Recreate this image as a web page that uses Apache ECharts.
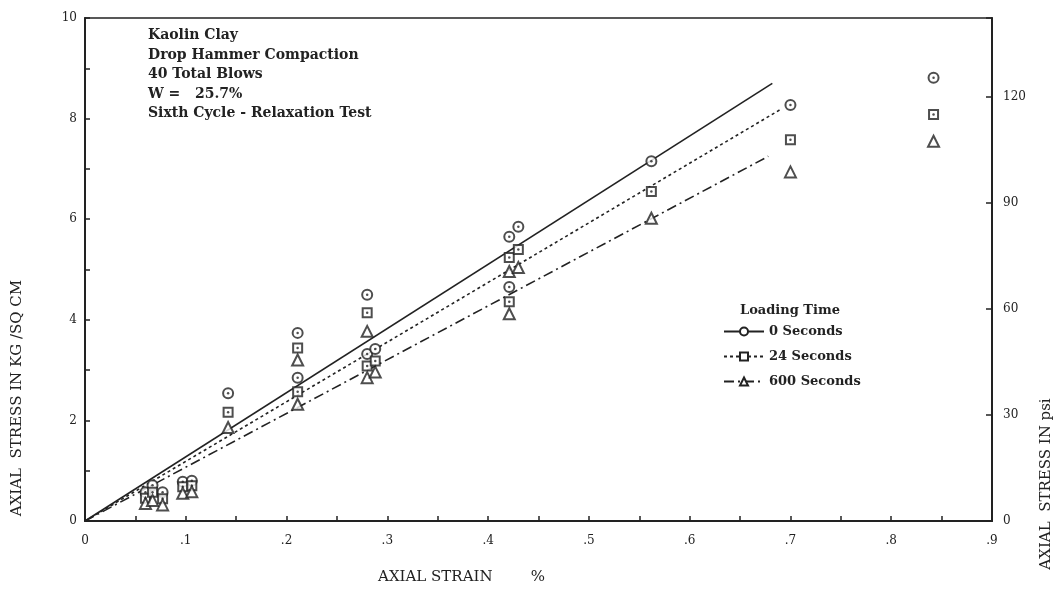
<!DOCTYPE html>
<html>
<head>
<meta charset="utf-8">
<script src="https://cdn.jsdelivr.net/npm/echarts@6/dist/echarts.min.js"></script>
<style>
  html, body { margin: 0; padding: 0; background: #fff; }
  #chart { width: 1059px; height: 590px; }
</style>
</head>
<body>
<div id="chart"></div>
<script>
// Axial strain (%) vs axial stress (kg/sq cm), sixth loading cycle of a relaxation test
const strainTicks = [0, 0.1, 0.2, 0.3, 0.4, 0.5, 0.6, 0.7, 0.8, 0.9];
const KG_TO_PSI = 14.223;

// measured points, one list per loading time: [strain %, stress kg/sq cm]
const stress0s = [
  [0.060, 0.57], [0.067, 0.71], [0.077, 0.57], [0.097, 0.78], [0.106, 0.80],
  [0.142, 2.54],
  [0.211, 3.74], [0.211, 2.85],
  [0.280, 4.50], [0.280, 3.32], [0.288, 3.42],
  [0.421, 5.65], [0.430, 5.85], [0.421, 4.65],
  [0.562, 7.15],
  [0.700, 8.27],
  [0.842, 8.81]
];
const stress24s = [
  [0.060, 0.45], [0.067, 0.57], [0.077, 0.44], [0.097, 0.68], [0.106, 0.70],
  [0.142, 2.16],
  [0.211, 3.44], [0.211, 2.57],
  [0.280, 4.14], [0.280, 3.08], [0.288, 3.18],
  [0.421, 5.24], [0.430, 5.40], [0.421, 4.36],
  [0.562, 6.55],
  [0.700, 7.58],
  [0.842, 8.08]
];
const stress600s = [
  [0.060, 0.35], [0.067, 0.41], [0.077, 0.32], [0.097, 0.55], [0.106, 0.58],
  [0.142, 1.86],
  [0.211, 3.20], [0.211, 2.32],
  [0.280, 3.77], [0.280, 2.85], [0.288, 2.96],
  [0.421, 4.96], [0.430, 5.04], [0.421, 4.12],
  [0.562, 6.02],
  [0.700, 6.94],
  [0.842, 7.55]
];

// straight lines drawn through each set
const fit0s = [[0, 0], [0.682, 8.70]];
const fit24s = [[0, 0], [0.690, 8.18]];
const fit600s = [[0, 0], [0.678, 7.25]];

const notes = [
  'Kaolin Clay',
  'Drop Hammer Compaction',
  '40 Total Blows',
  'W =   25.7%',
  'Sixth Cycle - Relaxation Test'
];

const INK = '#222';
const FONT = 'DejaVu Serif';

function fmtStrain(v) {
  const tenths = Math.round(v * 10);
  if (Math.abs(v * 10 - tenths) > 1e-6) return '';
  return tenths === 0 ? '0' : '.' + tenths;
}

function fitSeries(name, data, lineType, symbol) {
  return {
    name, type: 'line', data,
    symbol, symbolSize: 9, showSymbol: false,
    silent: true,
    lineStyle: { color: INK, width: 1.6, type: lineType },
    itemStyle: { color: INK, borderWidth: 2 },
    z: 2
  };
}
function pointSeries(name, data, symbol, size) {
  return {
    name, type: 'scatter', data,
    symbol, symbolSize: size,
    itemStyle: { color: '#fff', borderColor: INK, borderWidth: 2 },
    z: 3
  };
}
function dotSeries(name, data) {
  return {
    name, type: 'scatter', data,
    symbol: 'circle', symbolSize: 2.5,
    itemStyle: { color: INK },
    silent: true, z: 4
  };
}

const chart = echarts.init(document.getElementById('chart'));
chart.setOption({
  backgroundColor: '#fff',
  animation: false,
  grid: { left: 85, right: 67, top: 18, bottom: 66, show: true, borderColor: INK, borderWidth: 1.5 },
  xAxis: {
    type: 'value', min: 0, max: 0.9, interval: 0.05,
    name: 'AXIAL STRAIN        %', nameLocation: 'middle', nameGap: 49,
    nameTextStyle: { fontFamily: FONT, fontSize: 15, color: INK, padding: [0, 154, 0, 0] },
    axisLine: { lineStyle: { color: INK, width: 2 } },
    axisTick: { inside: true, length: 5, lineStyle: { color: INK, width: 1.5 } },
    axisLabel: { formatter: fmtStrain, fontFamily: FONT, fontSize: 12, color: INK, margin: 14 },
    splitLine: { show: false }
  },
  yAxis: [
    {
      type: 'value', min: 0, max: 10, interval: 1,
      axisLine: { show: true, lineStyle: { color: INK, width: 2 } },
      axisTick: { inside: true, length: 5, lineStyle: { color: INK, width: 1.5 } },
      axisLabel: {
        formatter: v => (v % 2 === 0 ? String(v) : ''),
        fontFamily: FONT, fontSize: 12, color: INK, margin: 8
      },
      splitLine: { show: false }
    },
    {
      type: 'value', min: 0, max: 10 * KG_TO_PSI, interval: 30, position: 'right',
      axisLine: { show: true, lineStyle: { color: INK, width: 2 } },
      axisTick: { inside: true, length: 6, lineStyle: { color: INK, width: 1.5 } },
      axisLabel: {
        formatter: v => (Math.abs(v % 30) < 1e-6 ? String(v) : ''),
        fontFamily: FONT, fontSize: 12, color: INK, margin: 11
      },
      splitLine: { show: false }
    }
  ],
  legend: {
    data: ['0 Seconds', '24 Seconds', '600 Seconds'],
    orient: 'vertical', left: 718, top: 320,
    itemWidth: 40, itemHeight: 10, itemGap: 12,
    textStyle: { fontFamily: FONT, fontSize: 13, color: INK, fontWeight: 'bold' },
    selectedMode: false
  },
  graphic: [
    {
      type: 'text', left: 148, top: 26,
      style: { text: notes.join('\n'), font: 'bold 14px "' + FONT + '"', fill: INK, lineHeight: 19.5 }
    },
    {
      type: 'text', x: 790, y: 311,
      style: { text: 'Loading Time', font: 'bold 13px "' + FONT + '"', fill: INK, align: 'center', verticalAlign: 'middle' }
    },
    {
      type: 'text', x: 17, y: 398, rotation: Math.PI / 2,
      style: { text: 'AXIAL  STRESS IN KG /SQ CM', font: '15px "' + FONT + '"', fill: INK, align: 'center', verticalAlign: 'middle' }
    },
    {
      type: 'text', x: 1046, y: 484, rotation: Math.PI / 2,
      style: { text: 'AXIAL  STRESS IN psi', font: '15px "' + FONT + '"', fill: INK, align: 'center', verticalAlign: 'middle' }
    }
  ],
  series: [
    fitSeries('0 Seconds', fit0s, 'solid', 'emptyCircle'),
    fitSeries('24 Seconds', fit24s, [3, 3], 'emptyRect'),
    fitSeries('600 Seconds', fit600s, [10, 4, 2, 4], 'emptyTriangle'),
    pointSeries('0 s points', stress0s, 'circle', 10),
    pointSeries('24 s points', stress24s, 'rect', 9),
    pointSeries('600 s points', stress600s, 'triangle', 11),
    dotSeries('0 s centres', stress0s),
    dotSeries('24 s centres', stress24s)
  ]
});
</script>
</body>
</html>
